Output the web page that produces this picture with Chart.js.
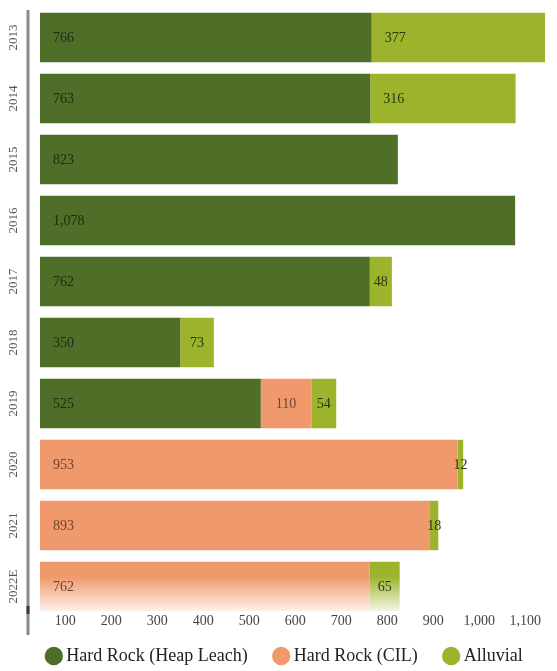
<!DOCTYPE html>
<html>
<head>
<meta charset="utf-8">
<script src="https://cdn.jsdelivr.net/npm/chart.js@4.4.1/dist/chart.umd.min.js"></script>
<style>
  html, body { margin: 0; padding: 0; background: #ffffff; overflow: hidden; }
  #wrap { width: 557px; height: 671px; position: relative; }
</style>
</head>
<body>
<div id="wrap"><canvas id="chart"></canvas></div>
<script>
// ---- data ----
const categories = ['2013', '2014', '2015', '2016', '2017', '2018', '2019', '2020', '2021', '2022E'];
const seriesNames = ['Hard Rock (Heap Leach)', 'Hard Rock (CIL)', 'Alluvial'];
const heapLeach = [766, 763, 823, 1078, 762, 350, 525, null, null, null];
const cil       = [null, null, null, null, null, null, 110, 953, 893, 762];
const alluvial  = [377, 316, null, null, 48, 73, 54, 12, 18, 65];
const xTicks = [100, 200, 300, 400, 500, 600, 700, 800, 900, 1000, 1100];
const estimateIndex = 9; // 2022E drawn with fade

// ---- styles ----
const colors = ['#4f6e28', '#f0996c', '#9bb42c'];
const fadeEnd = ['#f3f6ec', '#fdf1ea', '#f4f7e6'];
const labelColors = ['#1f2a12', '#6a4535', '#2a3512'];
const serif = "'Liberation Serif', 'DejaVu Serif', serif";

function fillFor(dsIndex) {
  return function (ctx) {
    const base = colors[dsIndex];
    if (ctx.type !== 'data' || ctx.dataIndex !== estimateIndex) return base;
    const chart = ctx.chart;
    const ys = chart.scales.y;
    if (!ys || !chart.chartArea) return base;
    const c = ys.getPixelForValue(estimateIndex);
    const half = (ys.height / categories.length) * 0.81 / 2;
    const g = chart.ctx.createLinearGradient(0, c - half, 0, c + half);
    g.addColorStop(0, base);
    g.addColorStop(0.3, base);
    g.addColorStop(1, fadeEnd[dsIndex]);
    return g;
  };
}

const seriesData = [heapLeach, cil, alluvial];

// value labels inside bar segments
const valueLabels = {
  id: 'valueLabels',
  afterDatasetsDraw(chart) {
    const ctx = chart.ctx;
    const area = chart.chartArea;
    ctx.save();
    ctx.font = '14px ' + serif;
    ctx.textBaseline = 'middle';
    chart.data.datasets.forEach((ds, di) => {
      const meta = chart.getDatasetMeta(di);
      meta.data.forEach((el, i) => {
        const v = ds.data[i];
        if (v === null || v === undefined) return;
        const start = Math.max(Math.min(el.base, el.x), area.left);
        const end = Math.max(el.base, el.x);
        const w = end - start;
        let first = true;
        for (let k = 0; k < di; k++) {
          const pv = chart.data.datasets[k].data[i];
          if (pv !== null && pv !== undefined) first = false;
        }
        const txt = Number(v).toLocaleString('en-US');
        ctx.fillStyle = labelColors[di];
        if (first || w > 100) {
          ctx.textAlign = 'left';
          ctx.fillText(txt, start + 13, el.y + 1);
        } else {
          ctx.textAlign = 'center';
          ctx.fillText(txt, (start + end) / 2, el.y + 1);
        }
      });
    });
    ctx.restore();
  }
};

// vertical axis rule to the left of the bars
const axisRule = {
  id: 'axisRule',
  afterDraw(chart) {
    const ctx = chart.ctx;
    const x = chart.chartArea.left - 12;
    ctx.save();
    ctx.strokeStyle = '#8a8a8a';
    ctx.lineWidth = 3;
    ctx.beginPath();
    ctx.moveTo(x, chart.chartArea.top + 3);
    ctx.lineTo(x, 635);
    ctx.stroke();
    ctx.strokeStyle = '#3a3a3a';
    ctx.beginPath();
    ctx.moveTo(x, 606);
    ctx.lineTo(x, 614);
    ctx.stroke();
    ctx.restore();
  }
};

new Chart(document.getElementById('chart'), {
  type: 'bar',
  data: {
    labels: categories,
    datasets: seriesData.map((d, i) => ({
      label: seriesNames[i],
      data: d,
      backgroundColor: fillFor(i),
      borderWidth: 0,
      categoryPercentage: 0.81,
      barPercentage: 1
    }))
  },
  options: {
    indexAxis: 'y',
    responsive: true,
    maintainAspectRatio: false,
    animation: false,
    layout: { padding: { left: 0, right: -16, top: 7, bottom: -4 } },
    plugins: {
      tooltip: { enabled: false },
      legend: {
        position: 'bottom',
        labels: {
          usePointStyle: true,
          pointStyle: 'circle',
          boxWidth: 7,
          boxHeight: 13,
          padding: 30,
          color: '#222222',
          font: { family: serif, size: 18 }
        }
      }
    },
    scales: {
      x: {
        type: 'linear',
        stacked: true,
        min: 45,
        max: 1169,
        grid: { display: false, drawTicks: false },
        border: { display: false },
        ticks: {
          mirror: true,
          padding: -13,
          autoSkip: false,
          maxRotation: 0,
          color: '#444444',
          font: { family: serif, size: 14 },
          callback: (v) => Number(v).toLocaleString('en-US')
        },
        afterBuildTicks(scale) { scale.ticks = xTicks.map(v => ({ value: v })); },
        afterFit(scale) { scale.height = 0; scale.paddingLeft = 0; scale.paddingRight = 0; }
      },
      y: {
        type: 'category',
        stacked: true,
        grid: { display: false, drawTicks: false },
        border: { display: false },
        ticks: {
          minRotation: 90,
          maxRotation: 90,
          crossAlign: 'center',
          padding: 9,
          color: '#555555',
          font: { family: serif, size: 13 }
        },
        afterFit(scale) { scale.width = 40; scale.paddingTop = 0; scale.paddingBottom = 0; }
      }
    }
  },
  plugins: [valueLabels, axisRule]
});
</script>
</body>
</html>
